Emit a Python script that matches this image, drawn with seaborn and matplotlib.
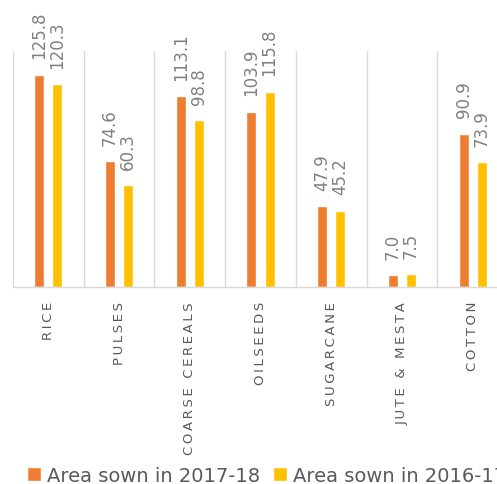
import matplotlib
matplotlib.use("Agg")
import matplotlib.pyplot as plt
import pandas as pd
import seaborn as sns
from matplotlib.ticker import FixedLocator

# Data
categories = ["RICE", "PULSES", "COARSE CEREALS", "OILSEEDS", "SUGARCANE", "JUTE & MESTA", "COTTON"]
area_2017_18 = [125.8, 74.6, 113.1, 103.9, 47.9, 7.0, 90.9]
area_2016_17 = [120.3, 60.3, 98.8, 115.8, 45.2, 7.5, 73.9]
series = ["Area sown in 2017-18", "Area sown in 2016-17"]
colors = ["#ED7D31", "#FFC000"]

df = pd.DataFrame({
    "crop": categories * 2,
    "area": area_2017_18 + area_2016_17,
    "season": [series[0]] * len(categories) + [series[1]] * len(categories),
})

sns.set_style("white")
plt.rcParams["font.family"] = ["DejaVu Sans"]

fig = plt.figure(figsize=(4.97, 4.85), dpi=100)
ax = fig.add_axes([13 / 497, 1 - 288 / 485, 495 / 497, 236 / 485])

sns.barplot(data=df, x="crop", y="area", hue="season", order=categories,
            hue_order=series, palette=colors, width=0.51, gap=0.445,
            saturation=1, ax=ax, legend=True)

for cont in ax.containers:
    ax.bar_label(cont, fmt="{:.1f}", rotation=90, padding=12,
                 fontsize=12, color="#808080")

ax.set_xlim(-0.5, 6.5)
ax.set_ylim(0, 140)
ax.set_xlabel("")
ax.set_ylabel("")
ax.set_yticks([])

# letter-spaced category labels
spaced = ["\u2009".join(list(c)) for c in categories]
ax.set_xticks(range(len(categories)))
ax.set_xticklabels(spaced, rotation=90, fontsize=9.5, color="#595959")
ax.tick_params(axis="x", length=0, pad=10)

# vertical separators between categories
ax.xaxis.set_minor_locator(FixedLocator([i - 0.5 for i in range(len(categories) + 1)]))
ax.grid(which="minor", axis="x", color="#d9d9d9", linewidth=1)
ax.grid(which="major", visible=False)
ax.set_axisbelow(True)

for side in ["top", "right", "left"]:
    ax.spines[side].set_visible(False)
ax.spines["bottom"].set_color("#d9d9d9")
ax.spines["bottom"].set_linewidth(1)

handles, labels = ax.get_legend_handles_labels()
ax.get_legend().remove()
fig.legend(handles, labels, loc="upper left", bbox_to_anchor=(27 / 497, 1 - 467 / 485),
           ncol=2, frameon=False, fontsize=14, handlelength=0.72, handleheight=0.72,
           handletextpad=0.31, columnspacing=0.67, borderpad=0, borderaxespad=0,
           labelcolor="#595959")

fig.savefig("out.png", dpi=100)
